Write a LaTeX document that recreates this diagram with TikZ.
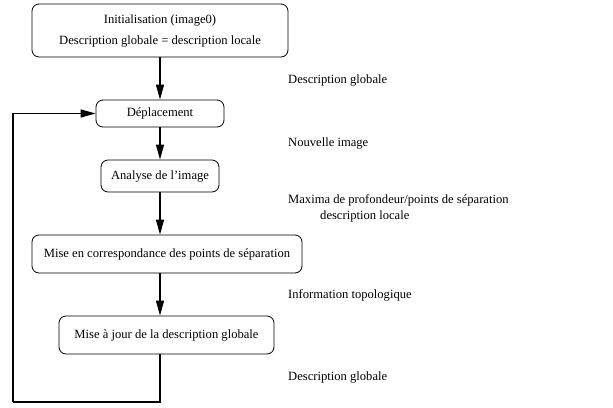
\documentclass[tikz,border=0pt]{standalone}
\usepackage{fontspec}
\setmainfont{Liberation Serif}
\usetikzlibrary{arrows.meta}
\begin{document}
\begin{tikzpicture}[x=1pt,y=-1pt,
  box/.style={draw,rounded corners=7pt,line width=0.8pt,inner sep=0pt,align=center,font=\fontsize{12.6}{21}\selectfont},
  lbl/.style={anchor=west,inner sep=0pt,font=\fontsize{12.6}{15}\selectfont},
  flow/.style={line width=1.3pt,-{Triangle[length=15pt,width=8pt]}},
  plain/.style={line width=1.3pt}]
\useasboundingbox (0,0) rectangle (613,407);
\node[box,minimum width=256pt,minimum height=53pt] (b1) at (160,30.5) {Initialisation (image0)\\Description globale = description locale};
\node[box,minimum width=128pt,minimum height=27pt] (b2) at (160,113.5) {Déplacement};
\node[box,minimum width=118pt,minimum height=32pt] (b3) at (160,176) {Analyse de l’image};
\node[box,minimum width=270pt,minimum height=38pt] (b4) at (167,254) {Mise en correspondance des points de séparation};
\node[box,minimum width=215pt,minimum height=38pt] (b5) at (166.5,335) {Mise à jour de la description globale};
\node[lbl] (l1) at (288,80) {Description globale};
\node[lbl] (l2) at (288,143) {Nouvelle image};
\node[lbl] (l3) at (288,200) {Maxima de profondeur/points de séparation};
\node[lbl] (l4) at (320,216) {description locale};
\node[lbl] (l5) at (288,295) {Information topologique};
\node[lbl] (l6) at (288,377) {Description globale};
\coordinate (c1) at (160,402);
\coordinate (c2) at (13,402);
\draw[flow] (b1.south) -- (b2.north);
\draw[flow] (b2.south) -- (b3.north);
\draw[flow] (b3.south) -- (b4.north -| b3.south);
\draw[flow] (b4.south -| b3.south) -- (b5.north -| b3.south);
\draw[plain] (b5.south -| b3.south) -- (c1) -- (c2);
\draw[flow] (c2) |- (b2.west);
\end{tikzpicture}
\end{document}
